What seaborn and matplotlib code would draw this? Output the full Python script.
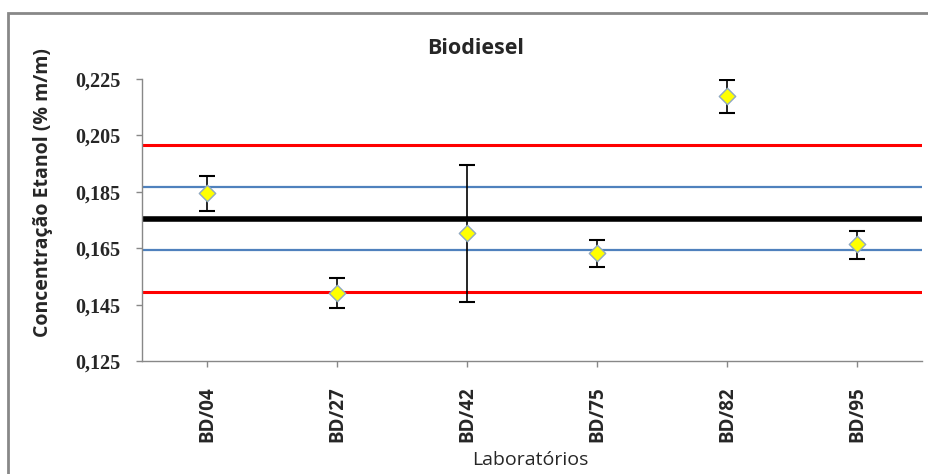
import matplotlib
matplotlib.use("Agg")
import matplotlib.pyplot as plt
import seaborn as sns
import pandas as pd
from matplotlib.patches import Rectangle

# dados
labs = ["BD/04", "BD/27", "BD/42", "BD/75", "BD/82", "BD/95"]
conc = [0.1847, 0.1492, 0.1703, 0.1634, 0.2190, 0.1664]
err_low = [0.0065, 0.0053, 0.0245, 0.0050, 0.0062, 0.0053]
err_high = [0.0060, 0.0053, 0.0241, 0.0046, 0.0058, 0.0048]

media = 0.1755
lim_blue = [0.1866, 0.1643]
lim_red = [0.2017, 0.1493]
yticks = [0.125, 0.145, 0.165, 0.185, 0.205, 0.225]

df = pd.DataFrame({"lab": labs, "conc": conc})
df["x"] = range(len(labs))

sns.set_style("white")
fig = plt.figure(figsize=(9.29, 4.74), dpi=100)
ax = fig.add_axes([0.1529, 0.2384, 0.8396, 0.5949])

# linhas de referencia
for v in lim_red:
    ax.axhline(v, color="#ff0000", lw=2.2, zorder=1)
for v in lim_blue:
    ax.axhline(v, color="#4f81bd", lw=1.6, zorder=1)
ax.axhline(media, color="black", lw=4, zorder=1)

ax.errorbar(df["x"], df["conc"], yerr=[err_low, err_high], fmt="none",
            ecolor="black", elinewidth=1.2, capsize=6, capthick=1.5, zorder=2)
sns.scatterplot(data=df, x="x", y="conc", marker="D", s=70, color="#ffff00",
                edgecolor="#8fa8c0", linewidth=1, zorder=3, ax=ax)

ax.set_xlim(-0.5, 5.5)
ax.set_ylim(0.125, 0.225)
ax.set_xticks(df["x"])
ax.set_xticklabels(labs, rotation=90, fontsize=13.5, fontweight="bold",
                   family="Open Sans")
ax.set_yticks(yticks)
ax.set_yticklabels([f"{t:.3f}".replace(".", ",") for t in yticks],
                   fontsize=14.5, fontweight="bold", family="Liberation Serif")
ax.tick_params(axis="both", direction="out", length=4.3, width=1, color="#888888",
               left=True, bottom=True)
ax.tick_params(axis="y", pad=11)
ax.tick_params(axis="x", pad=14)
ax.set_xlabel("")
ax.set_ylabel("")
for s in ["top", "right"]:
    ax.spines[s].set_visible(False)
for s in ["left", "bottom"]:
    ax.spines[s].set_color("#888888")
    ax.spines[s].set_linewidth(1)

fig.text(0.512, 0.897, "Biodiesel", ha="center", va="center", fontsize=15.5,
         fontweight="bold", family="Open Sans")
fig.text(0.046, 0.594, "Concentração Etanol (% m/m)", rotation=90, ha="center",
         va="center", fontsize=14, fontweight="bold", family="Open Sans")
fig.text(0.571, 0.03, "Laboratórios", ha="center", va="center", fontsize=14,
         family="Open Sans")

fig.patches.append(Rectangle((8 / 929, -0.05), 1.0, 1 - 13 / 474 + 0.05,
                             transform=fig.transFigure, fill=False,
                             edgecolor="#888888", lw=2))

fig.savefig("out.png", dpi=100)
